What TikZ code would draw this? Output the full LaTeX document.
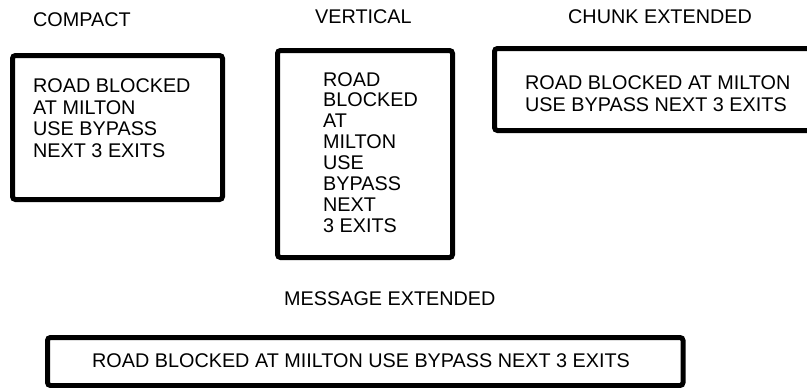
\documentclass[tikz,border=0pt]{standalone}
\usepackage{fontspec}
\setmainfont{Liberation Sans}
\tikzset{
  signbox/.style={line width=5pt, rounded corners=3pt},
  lbl/.style={anchor=base west, inner sep=0pt, font=\fontsize{19.8}{21.7}\selectfont},
  msg/.style={anchor=north west, inner sep=0pt, align=left, font=\fontsize{19.8}{21.7}\selectfont},
}
\begin{document}
\begin{tikzpicture}[x=1pt,y=-1pt]
\useasboundingbox (0,0) rectangle (807,388);
\clip (0,0) rectangle (807,388);
% titles
\node[lbl] (tcompact) at (33,27) {COMPACT};
\node[lbl] (tvertical) at (315,23.5) {VERTICAL};
\node[lbl] (tchunk) at (568,23.5) {CHUNK EXTENDED};
\node[lbl] (tmessage) at (284,305) {MESSAGE EXTENDED};
% boxes
\draw[signbox] (12.5,55.5) rectangle (222.5,199.5);
\draw[signbox] (277.5,50.5) rectangle (452.5,257.5);
\draw[signbox] (494.5,48.5) rectangle (830,130.5);
\draw[signbox] (47.5,337.5) rectangle (683,385.5);
% texts
\node[msg] (mcompact) at (33,78.5) {ROAD BLOCKED\\AT MILTON\\USE BYPASS\\NEXT 3 EXITS};
\node[msg, font=\fontsize{19.8}{20.9}\selectfont] (mvertical) at (323,72) {ROAD\\BLOCKED\\AT\\MILTON\\USE\\BYPASS\\NEXT\\3 EXITS};
\node[msg, font=\fontsize{19.8}{22}\selectfont] (mchunk) at (525,75.5) {ROAD BLOCKED AT MILTON\\USE BYPASS NEXT 3 EXITS};
\node[msg] (mmessage) at (92,353.5) {ROAD BLOCKED AT MIILTON USE BYPASS NEXT 3 EXITS};
\end{tikzpicture}
\end{document}
